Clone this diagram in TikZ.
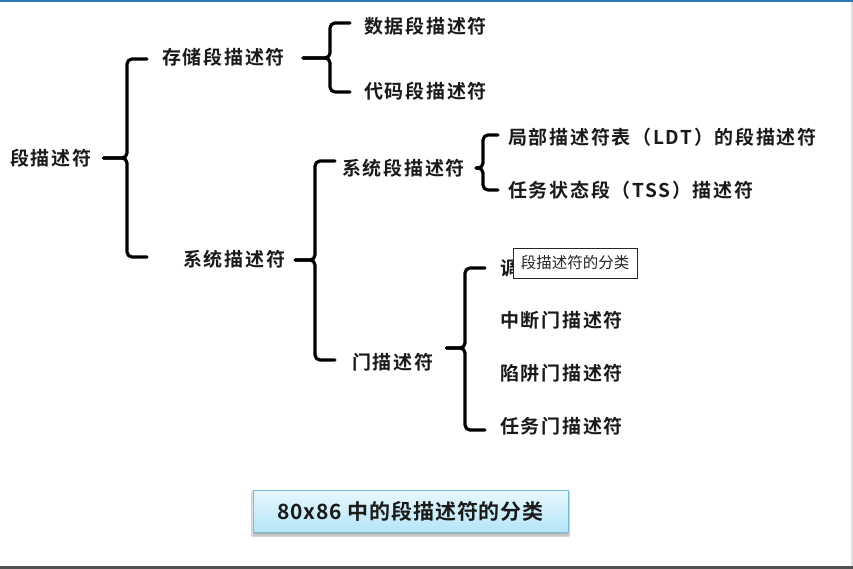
\documentclass[tikz,border=0pt]{standalone}
\usepackage{fontspec}
\newfontfamily\cjkb[LetterSpace=9]{Noto Sans CJK SC Bold}
\newfontfamily\cjkt[LetterSpace=4]{Noto Sans CJK SC Bold}
\newfontfamily\cjkr{Noto Sans CJK SC}
\usetikzlibrary{calc,shadows.blur}
\definecolor{txt}{HTML}{1A1A1A}
\definecolor{topline}{HTML}{2C7BB0}
\definecolor{boxtop}{HTML}{E9F8FD}
\definecolor{boxbot}{HTML}{B4E5F6}
\definecolor{boxedge}{HTML}{74BCD8}
\tikzset{
  lbl/.style={anchor=west,inner sep=0pt,text=txt,font=\cjkb\fontsize{19}{21}\selectfont},
  br/.style={line width=3.2pt,rounded corners=5pt,line cap=round,line join=round,black},
}
\begin{document}
\begin{tikzpicture}[x=1pt,y=-1pt]
\path[fill=white] (0,0) rectangle (853,569);
\useasboundingbox (0,0) rectangle (853,569);
% frame lines
\fill[topline] (0,0) rectangle (853,1.6);
\fill[black!12] (850.5,2) rectangle (853,566);
\fill[black!68] (0,565.5) rectangle (853,569);

% nodes
\node[lbl] (root) at (10,158) {段描述符};
\node[lbl] (storage) at (162,57) {存储段描述符};
\node[lbl] (sysdesc) at (183,259) {系统描述符};
\node[lbl] (data) at (364,26) {数据段描述符};
\node[lbl] (code) at (364,91) {代码段描述符};
\node[lbl] (sysseg) at (342,168) {系统段描述符};
\node[lbl] (gate) at (352,362) {门描述符};
\node[lbl] (ldt) at (508,137) {局部描述符表（LDT）的段描述符};
\node[lbl] (tss) at (508,190) {任务状态段（TSS）描述符};
\node[lbl] (call) at (500,268) {调用门描述符};
\node[lbl] (int) at (500,320) {中断门描述符};
\node[lbl] (trap) at (500,373) {陷阱门描述符};
\node[lbl] (task) at (500,426) {任务门描述符};

% brace 1
\coordinate (b1) at (127,158);
\draw[br] ([xshift=12]root.east |- b1) -- (b1) |- ($(storage.west)+(-15,2)$);
\draw[br] ([xshift=12]root.east |- b1) -- (b1) |- ($(sysdesc.west)+(-36,-2)$);
% brace 2
\coordinate (b2) at (330,58);
\draw[br] ([xshift=18]storage.east |- b2) -- (b2) |- ($(data.west)+(-14,-3)$);
\draw[br] ([xshift=18]storage.east |- b2) -- (b2) |- ($(code.west)+(-14,1)$);
% brace 3
\coordinate (b3) at (315,260);
\draw[br] ([xshift=10]sysdesc.east |- b3) -- (b3) |- ($(sysseg.west)+(-7,-7)$);
\draw[br] ([xshift=10]sysdesc.east |- b3) -- (b3) |- ($(gate.west)+(-17,-2)$);
% brace 4
\coordinate (b4) at (483,168);
\draw[br] ([xshift=11]sysseg.east |- b4) -- (b4) |- ($(ldt.west)+(-10,-2)$);
\draw[br] ([xshift=11]sysseg.east |- b4) -- (b4) |- ($(tss.west)+(-10,0)$);
% brace 5
\coordinate (b5) at (465,348);
\draw[br] ([xshift=13]gate.east |- b5) -- (b5) |- ($(call.west)+(-15,0)$);
\draw[br] ([xshift=13]gate.east |- b5) -- (b5) |- ($(task.west)+(-15,4)$);

% tooltip
\node[draw=black!85,fill=white,line width=0.8pt,minimum width=124pt,minimum height=30pt,inner sep=0pt,
      font=\cjkr\fontsize{15.5}{17}\selectfont,text=black!85] (tip) at (575,263) {段描述符的分类};

% caption box
\node[draw=boxedge,line width=0.8pt,top color=boxtop,bottom color=boxbot,
      minimum width=315pt,minimum height=42pt,inner sep=0pt,
      blur shadow={shadow xshift=0pt,shadow yshift=-3pt,shadow blur steps=6,shadow opacity=35},
      font=\cjkt\fontsize{21}{23}\selectfont,text=txt] (cap) at (410.5,511) {80x86 中的段描述符的分类};
\end{tikzpicture}
\end{document}
